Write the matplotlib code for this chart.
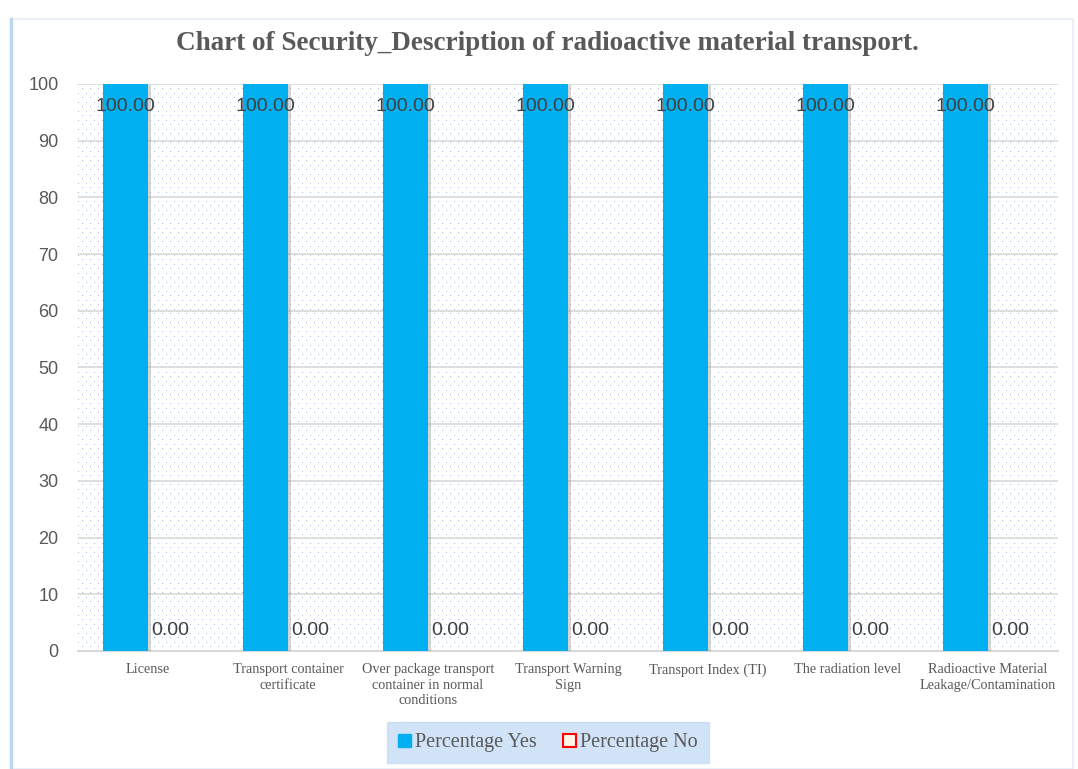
import numpy as np
import matplotlib
matplotlib.use("Agg")
import matplotlib.pyplot as plt
from matplotlib.patches import Patch, Rectangle
from matplotlib import patheffects as pe

categories = ["License", "Transport container\ncertificate",
              "Over package transport\ncontainer in normal\nconditions",
              "Transport Warning\nSign", "Transport Index (TI)",
              "The radiation level",
              "Radioactive Material\nLeakage/Contamination"]
pct_yes = [100.0, 100.0, 100.0, 100.0, 100.0, 100.0, 100.0]
pct_no = [0.0, 0.0, 0.0, 0.0, 0.0, 0.0, 0.0]

fig = plt.figure(figsize=(10.78, 7.69), dpi=100)
# outer frame
fig.add_artist(Rectangle((0.01, 0.0), 0.985, 0.975, transform=fig.transFigure,
                         fill=False, edgecolor='#e6eef8', lw=1.2))
fig.add_artist(plt.Line2D([0.0105, 0.0105], [0.0, 0.975], transform=fig.transFigure,
                          color='#bcd6f0', lw=2.5))

ax = fig.add_axes([0.0724, 0.1535, 0.909, 0.7373])

# dotted plot-area fill (staggered tiny blue dots)
H, W = 567, 980
bg = np.ones((H, W, 3))
rr, cc = np.mgrid[0:H, 0:W]
dots = ((rr % 9 == 0) & (cc % 8 == 0)) | ((rr % 9 == 4) & (cc % 8 == 4))
bg[dots] = np.array([0x9d, 0xbf, 0xea]) / 255.0
ax.imshow(bg, extent=(-0.5, len(categories) - 0.5, 0, 100), aspect='auto',
          interpolation='nearest', zorder=0)

x = np.arange(len(categories))
w = 0.32
ax.bar(x - w / 2, pct_yes, w, color='#00b0f0', label='Percentage Yes', zorder=3,
       path_effects=[pe.SimplePatchShadow(offset=(2, -1), shadow_rgbFace='#888888', alpha=0.35),
                     pe.Normal()])
ax.bar(x + w / 2, pct_no, w, facecolor='white', edgecolor='red', lw=0,
       label='Percentage No', zorder=3)

for xi, v in zip(x - w / 2, pct_yes):
    ax.text(xi, v - 4, f"{v:.2f}", ha='center', va='center', fontsize=14,
            color='#404040', family='Liberation Sans', zorder=4)
for xi, v in zip(x + w / 2, pct_no):
    ax.text(xi, v + 3.6, f"{v:.2f}", ha='center', va='center', fontsize=14,
            color='#404040', family='Liberation Sans', zorder=4)

ax.set_xlim(-0.5, len(categories) - 0.5)
ax.set_ylim(0, 100)
ax.set_yticks(range(0, 101, 10))
ax.yaxis.grid(True, color='#d9d9d9', lw=1.2, zorder=1)
for s in ['top', 'right', 'left']:
    ax.spines[s].set_visible(False)
ax.spines['bottom'].set_color('#d9d9d9')
ax.spines['bottom'].set_linewidth(1.5)
ax.tick_params(axis='y', length=0, labelsize=13, labelcolor='#595959', pad=14)
ax.tick_params(axis='x', length=0, pad=9)
ax.set_xticks(x)
ax.set_xticklabels(categories, fontsize=10.3, color='#595959', family='Liberation Serif',
                   linespacing=1.25, va='top')
for lab in ax.get_yticklabels():
    lab.set_family('Liberation Sans')

fig.text(0.508, 0.943, "Chart of Security_Description of radioactive material transport.",
         ha='center', va='center', fontsize=19.5, fontweight='bold', color='#595959',
         family='Liberation Serif')

handles = [Patch(facecolor='#00b0f0', edgecolor='#00b0f0'),
           Patch(facecolor='#fff5e6', edgecolor='red', lw=1.5)]
leg = fig.legend(handles, ['Percentage Yes', 'Percentage No'], loc='center',
                 bbox_to_anchor=(0.508, 0.034), ncol=2, frameon=True, fancybox=False,
                 prop={'family': 'Liberation Serif', 'size': 14.5}, handlelength=0.65,
                 handleheight=0.65, handletextpad=0.2, columnspacing=1.3,
                 borderpad=0.55, borderaxespad=0)
leg.get_frame().set_facecolor('#c6dcf6')
leg.get_frame().set_edgecolor('#c6dcf6')
for t in leg.get_texts():
    t.set_color('#595959')

plt.savefig("out.png", dpi=100)
plt.close()
